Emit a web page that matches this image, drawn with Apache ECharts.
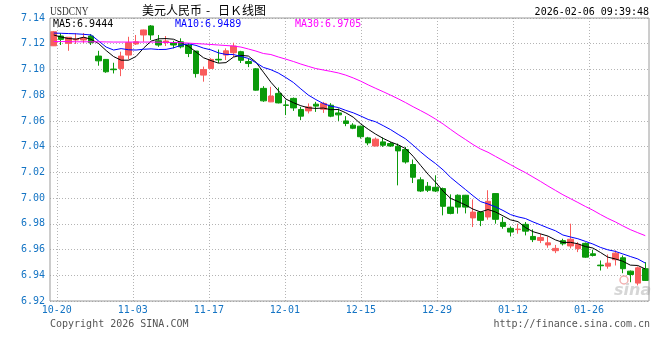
<!DOCTYPE html>
<html><head><meta charset="utf-8">
<script src="https://cdn.jsdelivr.net/npm/echarts@6/dist/echarts.min.js"></script>
<style>html,body{margin:0;padding:0;background:#fff}#c{width:660px;height:360px}</style>
</head><body><div id="c"></div>
<script>
// ---------- data ----------
const dates = ['10-20','10-21','10-22','10-23','10-24','10-27','10-28','10-29','10-30','10-31',
'11-03','11-04','11-05','11-06','11-07','11-10','11-11','11-12','11-13','11-14',
'11-17','11-18','11-19','11-20','11-21','11-24','11-25','11-26','11-27','11-28',
'12-01','12-02','12-03','12-04','12-05','12-08','12-09','12-10','12-11','12-12',
'12-15','12-16','12-17','12-18','12-19','12-22','12-23','12-24','12-25','12-26',
'12-29','12-30','12-31','01-01','01-02','01-05','01-06','01-07','01-08','01-09',
'01-12','01-13','01-14','01-15','01-16','01-19','01-20','01-21','01-22','01-23',
'01-26','01-27','01-28','01-29','01-30','02-02','02-03','02-04','02-05','02-06'];

const opens = [7.1184,7.1260,7.1203,7.1229,7.1229,7.1260,7.1104,7.1078,7.1003,7.1008,
7.1112,7.1198,7.1268,7.1338,7.1223,7.1209,7.1208,7.1215,7.1190,7.1143,
7.0956,7.1008,7.1079,7.1112,7.1130,7.1138,7.1061,7.1005,7.0853,7.0748,
7.0814,7.0724,7.0775,7.0689,7.0678,7.0730,7.0691,7.0722,7.0662,7.0600,
7.0567,7.0559,7.0468,7.0405,7.0437,7.0424,7.0403,7.0377,7.0261,7.0142,
7.0092,7.0084,7.0074,6.9930,7.0022,7.0022,6.9846,6.9891,6.9853,7.0035,
6.9811,6.9765,6.9755,6.9796,6.9702,6.9671,6.9636,6.9591,6.9669,6.9628,
6.9607,6.9648,6.9567,6.9479,6.9471,6.9521,6.9536,6.9432,6.9339,6.9451];

const closes = [7.1293,7.1234,7.1250,7.1236,7.1244,7.1208,7.1067,7.0982,7.0998,7.1104,
7.1208,7.1215,7.1307,7.1268,7.1190,7.1221,7.1190,7.1176,7.1124,7.0968,
7.0999,7.1078,7.1074,7.1145,7.1182,7.1071,7.1046,7.0839,7.0756,7.0793,
7.0740,7.0721,7.0701,7.0637,7.0709,7.0715,7.0736,7.0637,7.0647,7.0580,
7.0543,7.0477,7.0429,7.0458,7.0411,7.0405,7.0367,7.0281,7.0162,7.0055,
7.0061,7.0055,6.9936,6.9881,6.9930,6.9930,6.9891,6.9827,6.9975,6.9835,
6.9780,6.9736,6.9759,6.9743,6.9677,6.9694,6.9652,6.9609,6.9645,6.9680,
6.9640,6.9541,6.9554,6.9474,6.9494,6.9572,6.9451,6.9406,6.9458,6.9360];

const lows = [7.1182,7.1190,7.1145,7.1198,7.1205,7.1190,7.1029,7.0974,7.0969,7.0948,
7.1078,7.1190,7.1215,7.1229,7.1176,7.1182,7.1164,7.1164,7.1096,7.0937,
7.0905,7.1003,7.1050,7.1073,7.1096,7.1050,7.1018,7.0835,7.0748,7.0746,
7.0736,7.0645,7.0678,7.0606,7.0658,7.0670,7.0662,7.0629,7.0600,7.0559,
7.0536,7.0463,7.0411,7.0403,7.0398,7.0398,7.0099,7.0268,7.0117,7.0047,
7.0047,7.0047,6.9866,6.9874,6.9879,6.9881,6.9775,6.9782,6.9832,6.9801,
6.9762,6.9702,6.9723,6.9710,6.9658,6.9650,6.9614,6.9572,6.9632,6.9609,
6.9580,6.9536,6.9546,6.9437,6.9451,6.9476,6.9416,6.9346,6.9321,6.9356];

const highs = [7.1299,7.1281,7.1252,7.1281,7.1283,7.1275,7.1145,7.1081,7.1052,7.1138,
7.1254,7.1268,7.1310,7.1345,7.1268,7.1260,7.1223,7.1242,7.1205,7.1143,
7.1022,7.1088,7.1155,7.1164,7.1208,7.1145,7.1086,7.1011,7.0870,7.0865,
7.0860,7.0761,7.0782,7.0709,7.0736,7.0748,7.0748,7.0738,7.0697,7.0637,
7.0582,7.0563,7.0476,7.0471,7.0471,7.0437,7.0424,7.0398,7.0300,7.0162,
7.0125,7.0177,7.0082,7.0029,7.0029,7.0025,6.9990,6.9897,7.0061,7.0037,
6.9853,6.9780,6.9801,6.9814,6.9757,6.9723,6.9702,6.9636,6.9684,6.9801,
6.9658,6.9655,6.9599,6.9515,6.9562,6.9593,6.9554,6.9437,6.9469,6.9502];

// moving-average values shown before a full window of visible closes exists
const ma5Lead = [7.1268,7.1252,7.1240,7.1236];
const ma10Lead = [7.1283,7.1281,7.1279,7.1277,7.1273,7.1268,7.1221,7.1174,7.1151];
const ma30Lead = [7.1217,7.1217,7.1216,7.1215,7.1215,7.1215,7.1215,7.1214,7.1213,7.1213,
7.1213,7.1213,7.1213,7.1213,7.1212,7.1211,7.1209,7.1208,7.1205,7.1201,
7.1198,7.1194,7.1190,7.1186,7.1182,7.1174,7.1159,7.1143,7.1124];

const tickDates = ['10-20','11-03','11-17','12-01','12-15','12-29','01-12','01-26'];
const yMin = 6.92, yMax = 7.14, yStep = 0.02;
const legendVals = {MA5:'6.9444', MA10:'6.9489', MA30:'6.9705'};
const titleText = '美元人民币';
const subTitle = '日Ｋ线图';
const symbolText = 'USDCNY';
const stampText = '2026-02-06 09:39:48';

// ---------- build ----------
function movingAvg(n, lead){
  const out = [];
  for (let i = 0; i < closes.length; i++){
    if (i < n - 1) { out.push(lead[i]); continue; }
    let s = 0;
    for (let j = i - n + 1; j <= i; j++) s += closes[j];
    out.push(+(s / n).toFixed(4));
  }
  return out;
}
const kData = dates.map((d, i) => [opens[i], closes[i], lows[i], highs[i]]);
const ma5 = movingAvg(5, ma5Lead), ma10 = movingAvg(10, ma10Lead), ma30 = movingAvg(30, ma30Lead);

const MONO = '"DejaVu Sans Mono", "Liberation Mono", monospace';
const AXISBLUE = '#1474c4';
const GRIDC = '#b4b4b4';
const chart = echarts.init(document.getElementById('c'), null, {renderer:'canvas'});
chart.setOption({
  animation:false,
  backgroundColor:'#ffffff',
  grid:[
    {left:50, top:18, width:599, height:283, show:true, borderColor:'#9a9a9a', borderWidth:1, z:5},
    // date-scale grid (Sina spaces its date grid slightly wider than the candle slots)
    {left:56.8, top:18, width:600.6, height:283, show:false}
  ],
  xAxis:[
    {type:'category', data:dates, boundaryGap:true, gridIndex:0,
     axisLine:{show:false}, axisTick:{show:false}, splitLine:{show:false}, axisLabel:{show:false}},
    {type:'category', data:dates, boundaryGap:false, gridIndex:1,
     axisLine:{show:false}, axisTick:{show:false},
     splitLine:{show:true, interval:(i, v) => tickDates.includes(v), lineStyle:{color:GRIDC, type:[1,2], width:1}},
     axisLabel:{interval:(i, v) => tickDates.includes(v), color:AXISBLUE, fontFamily:MONO, fontSize:10, margin:4}}
  ],
  yAxis:[
    {type:'value', min:yMin, max:yMax, interval:yStep, gridIndex:0,
     axisLine:{show:false}, axisTick:{show:false},
     axisLabel:{formatter:v => v.toFixed(2), color:AXISBLUE, fontFamily:MONO, fontSize:10, margin:5, padding:[0,0,4,0]},
     splitLine:{show:true, lineStyle:{color:GRIDC, type:[1,2], width:1}}},
    {type:'value', min:0, max:1, gridIndex:1, show:false, splitLine:{show:false}}
  ],
  series:[
    {type:'candlestick', data:kData, xAxisIndex:0, yAxisIndex:0, z:3, barWidth:6,
     itemStyle:{color:'#f95c5c', color0:'#0a9a0a', borderColor:'#f95c5c', borderColor0:'#0a9a0a', borderWidth:1}},
    {type:'line', data:ma5, xAxisIndex:0, yAxisIndex:0, z:4, showSymbol:false, symbol:'none', lineStyle:{color:'#000000', width:1}},
    {type:'line', data:ma10, xAxisIndex:0, yAxisIndex:0, z:4, showSymbol:false, symbol:'none', lineStyle:{color:'#0000ff', width:1}},
    {type:'line', data:ma30, xAxisIndex:0, yAxisIndex:0, z:4, showSymbol:false, symbol:'none', lineStyle:{color:'#ff00ff', width:1}}
  ],
  graphic:[
    {type:'text', x:50, y:6, scaleX:0.78, style:{text:symbolText, font:'12px "Liberation Serif", serif', fill:'#333'}},
    {type:'text', x:142, y:4, style:{text:titleText, font:'12px "Noto Sans CJK SC"', fill:'#000'}},
    {type:'text', x:206, y:4, style:{text:'-', font:'12px "Noto Sans CJK SC"', fill:'#000'}},
    {type:'text', x:218, y:4, style:{text:subTitle, font:'12px "Noto Sans CJK SC"', fill:'#000'}},
    {type:'text', x:649, y:7, style:{text:stampText, font:'10px '+MONO, fill:'#000', align:'right'}},
    {type:'text', x:53, y:19, style:{text:'MA5:'+legendVals.MA5, font:'10px '+MONO, fill:'#000'}},
    {type:'text', x:175, y:19, style:{text:'MA10:'+legendVals.MA10, font:'10px '+MONO, fill:'#0000ff'}},
    {type:'text', x:295, y:19, style:{text:'MA30:'+legendVals.MA30, font:'10px '+MONO, fill:'#ff00ff'}},
    {type:'text', x:50, y:319, style:{text:'Copyright 2026 SINA.COM', font:'10px '+MONO, fill:'#555'}},
    {type:'text', x:650, y:319, style:{text:'http://finance.sina.com.cn', font:'10px '+MONO, fill:'#555', align:'right'}},
    {type:'circle', shape:{cx:624, cy:280, r:4}, z:0, style:{fill:'none', stroke:'#f3b0b0', lineWidth:1.5}},
    {type:'text', x:614, y:283, z:0, style:{text:'sina', font:'italic bold 16px "DejaVu Sans"', fill:'#d6d6d6'}}
  ]
});
</script></body></html>
